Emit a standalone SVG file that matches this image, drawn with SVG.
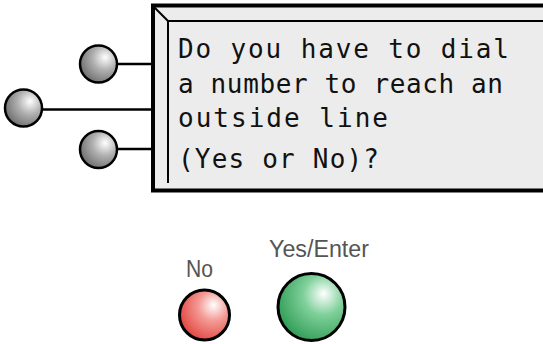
<svg xmlns="http://www.w3.org/2000/svg" width="543" height="344" viewBox="0 0 543 344">
<style>
.lcd{font-family:"DejaVu Sans Mono","Liberation Mono",monospace;font-size:26px;fill:#111}
.lbl{font-family:"Liberation Sans",Arial,sans-serif;font-size:23px;fill:#555}
.conn{stroke:#000;stroke-width:2.5;fill:none}
.knob{fill:url(#gGray);stroke:#000;stroke-width:2.5}
</style>
<defs>
<radialGradient id="gGray" cx="0.68" cy="0.35" r="0.75" fx="0.68" fy="0.32">
<stop offset="0" stop-color="#ffffff"/>
<stop offset="0.45" stop-color="#b0b0b0"/>
<stop offset="1" stop-color="#6a6a6a"/>
</radialGradient>
<radialGradient id="gRed" cx="0.68" cy="0.35" r="0.75" fx="0.68" fy="0.3">
<stop offset="0" stop-color="#ffffff"/>
<stop offset="0.4" stop-color="#f49a94"/>
<stop offset="1" stop-color="#e0413c"/>
</radialGradient>
<radialGradient id="gGreen" cx="0.68" cy="0.35" r="0.75" fx="0.68" fy="0.3">
<stop offset="0" stop-color="#ffffff"/>
<stop offset="0.4" stop-color="#7fd09a"/>
<stop offset="1" stop-color="#2c9a52"/>
</radialGradient>
</defs>
<rect width="543" height="344" fill="#fff"/>
<g id="connectors">
<line class="conn" x1="116" y1="64" x2="153" y2="64"/>
<line class="conn" x1="41" y1="109.5" x2="153" y2="109.5"/>
<line class="conn" x1="116" y1="149" x2="153" y2="149"/>
</g>
<g id="display">
<rect x="153" y="5.5" width="395" height="185" fill="#ececec" stroke="#000" stroke-width="4"/>
<line x1="153" y1="6" x2="168" y2="21" stroke="#000" stroke-width="2"/>
<line x1="168" y1="21" x2="543" y2="21" stroke="#000" stroke-width="2"/>
<line x1="168" y1="21" x2="168" y2="183" stroke="#000" stroke-width="2"/>
<text class="lcd" x="178" y="58" textLength="331" lengthAdjust="spacing">Do you have to dial</text>
<text class="lcd" x="178" y="93" textLength="325" lengthAdjust="spacing">a number to reach an</text>
<text class="lcd" x="178" y="127" textLength="210" lengthAdjust="spacing">outside line</text>
<text class="lcd" x="178" y="168" textLength="201" lengthAdjust="spacing">(Yes or No)?</text>
</g>
<g id="knob1"><circle class="knob" cx="98.5" cy="64" r="18.5"/></g>
<g id="knob2"><circle class="knob" cx="23.5" cy="108" r="18.5"/></g>
<g id="knob3"><circle class="knob" cx="98.5" cy="149.5" r="18.5"/></g>
<g id="no">
<text class="lbl" x="186" y="277" textLength="27" lengthAdjust="spacingAndGlyphs">No</text>
<circle cx="204.5" cy="315" r="25" fill="url(#gRed)" stroke="#000" stroke-width="3"/>
</g>
<g id="yes">
<text class="lbl" x="269" y="257" textLength="100" lengthAdjust="spacingAndGlyphs">Yes/Enter</text>
<circle cx="311.5" cy="307" r="33.5" fill="url(#gGreen)" stroke="#000" stroke-width="3"/>
</g>
</svg>
